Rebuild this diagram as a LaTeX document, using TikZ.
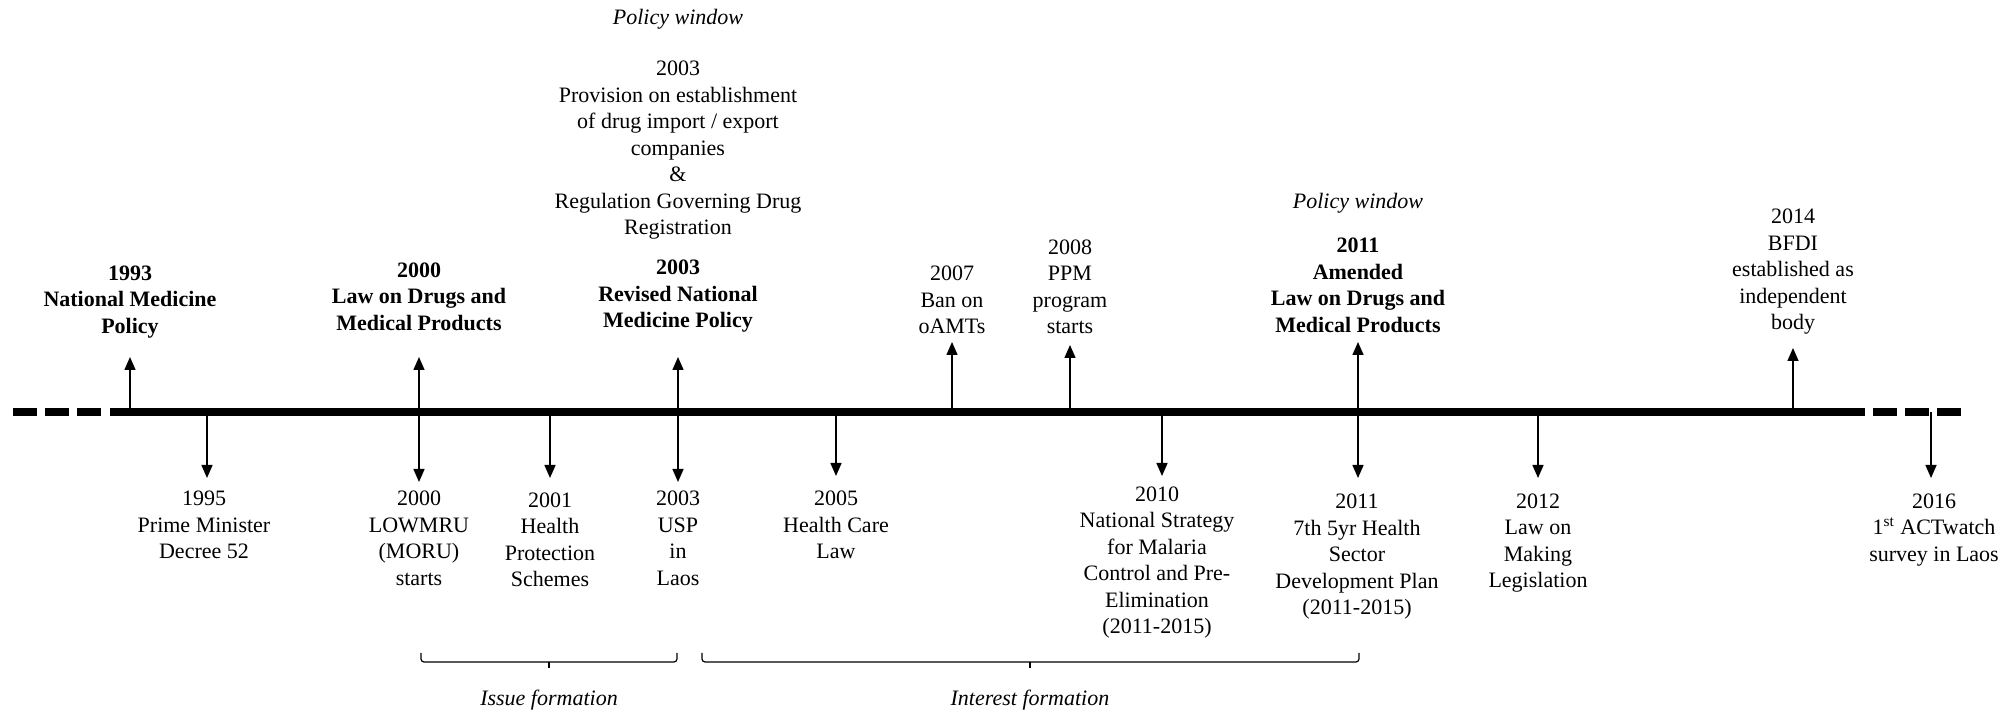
\documentclass[tikz,border=0pt]{standalone}
\usepackage{fontspec}
\setmainfont{Liberation Serif}
\usetikzlibrary{arrows.meta}
\begin{document}
\begin{tikzpicture}[x=0.5pt,y=-0.5pt,
  lbl/.style={align=center,inner sep=0pt,font=\fontsize{11}{13.25}\selectfont},
  blbl/.style={lbl,font=\fontsize{11}{13.25}\selectfont\bfseries},
  ilbl/.style={lbl,font=\fontsize{11}{13.25}\selectfont\itshape},
  tl/.style={line width=4pt},
  tldash/.style={tl,dash pattern=on 12pt off 4pt},
  ev/.style={line width=0.75pt,-{Triangle[length=6.5pt,width=5.5pt]}},
  dev/.style={line width=0.75pt,{Triangle[length=6.5pt,width=5.5pt]}-{Triangle[length=6.5pt,width=5.5pt]}},
  brace/.style={line width=0.6pt,rounded corners=1.5pt}]
\useasboundingbox (0,0) rectangle (2015,715);

% timeline coordinates
\coordinate (L0) at (13,412);
\coordinate (L1) at (102,412);
\coordinate (S0) at (110,412);
\coordinate (S1) at (1865,412);
\coordinate (R0) at (1873,412);
\coordinate (R1) at (1963,412);

% arrow tip coordinates
\coordinate (t1993) at (130,412);   \coordinate (a1993) at (130,357);
\coordinate (a2000u) at (419,357);  \coordinate (a2000d) at (419,482);
\coordinate (a2003u) at (678,357);  \coordinate (a2003d) at (678,482);
\coordinate (t2007) at (952,412);   \coordinate (a2007) at (952,342);
\coordinate (t2008) at (1070,412);  \coordinate (a2008) at (1070,345);
\coordinate (a2011u) at (1358,342); \coordinate (a2011d) at (1358,478);
\coordinate (t2014) at (1793,412);  \coordinate (a2014) at (1793,348);
\coordinate (t1995) at (207,412);   \coordinate (a1995) at (207,478);
\coordinate (t2001) at (550,412);   \coordinate (a2001) at (550,478);
\coordinate (t2005) at (836,412);   \coordinate (a2005) at (836,476);
\coordinate (t2010) at (1162,412);  \coordinate (a2010) at (1162,476);
\coordinate (t2012) at (1538,412);  \coordinate (a2012) at (1538,478);
\coordinate (t2016) at (1931,412);  \coordinate (a2016) at (1931,478);

% arrows
\draw[ev] (t1993) -- (a1993);
\draw[dev] (a2000u) -- (a2000d);
\draw[dev] (a2003u) -- (a2003d);
\draw[ev] (t2007) -- (a2007);
\draw[ev] (t2008) -- (a2008);
\draw[dev] (a2011u) -- (a2011d);
\draw[ev] (t2014) -- (a2014);
\draw[ev] (t1995) -- (a1995);
\draw[ev] (t2001) -- (a2001);
\draw[ev] (t2005) -- (a2005);
\draw[ev] (t2010) -- (a2010);
\draw[ev] (t2012) -- (a2012);
\draw[ev] (t2016) -- (a2016);

% timeline
\draw[tldash] (L0) -- (L1);
\draw[tl] (S0) -- (S1);
\draw[tldash] (R0) -- (R1);

% labels above
\node[ilbl] (pw1) at (678,19) {Policy window};
\node[lbl] (prov) at (678,150.5) {2003\\Provision on establishment\\of drug import / export\\companies\\\&\\Regulation Governing Drug\\Registration};
\node[blbl] (n1993) at (130,302) {1993\\National Medicine\\Policy};
\node[blbl] (n2000a) at (419,296.5) {2000\\Law on Drugs and\\Medical Products};
\node[blbl] (n2003a) at (678,296.5) {2003\\Revised National\\Medicine Policy};
\node[lbl] (n2007) at (952,300) {2007\\Ban on\\oAMTs};
\node[lbl] (n2008) at (1070,287) {2008\\PPM\\program\\starts};
\node[ilbl] (pw2) at (1358,203) {Policy window};
\node[blbl] (n2011a) at (1358,285.5) {2011\\Amended\\Law on Drugs and\\Medical Products};
\node[lbl] (n2014) at (1793,272) {2014\\BFDI\\established as\\independent\\body};

% labels below
\node[lbl] (n1995) at (204,525) {1995\\Prime Minister\\Decree 52};
\node[lbl] (n2000b) at (419,538.5) {2000\\LOWMRU\\(MORU)\\starts};
\node[lbl] (n2001) at (550,540) {2001\\Health\\Protection\\Schemes};
\node[lbl] (n2003b) at (678,538.5) {2003\\USP\\in\\Laos};
\node[lbl] (n2005) at (836,525) {2005\\Health Care\\Law};
\node[lbl] (n2010) at (1157,562.5) {2010\\National Strategy\\for Malaria\\Control and Pre-\\Elimination\\(2011-2015)};
\node[lbl] (n2011b) at (1357,557) {2011\\7th 5yr Health\\Sector\\Development Plan\\(2011-2015)};
\node[lbl] (n2012) at (1538,543) {2012\\Law on\\Making\\Legislation};
\node[lbl] (n2016) at (1934,530) {2016\\1\textsuperscript{st} ACTwatch\\survey in Laos};

% braces
\coordinate (b1l) at (421,653); \coordinate (b1r) at (677,653);
\coordinate (b1m) at (549,662); \coordinate (b1t) at (549,668);
\draw[brace] (b1l) |- (b1m) -| (b1r);
\draw[brace] (b1m) -- (b1t);
\node[ilbl] (issue) at (549,700) {Issue formation};

\coordinate (b2l) at (702,653); \coordinate (b2r) at (1359,653);
\coordinate (b2m) at (1030,662); \coordinate (b2t) at (1030,668);
\draw[brace] (b2l) |- (b2m) -| (b2r);
\draw[brace] (b2m) -- (b2t);
\node[ilbl] (interest) at (1030,700) {Interest formation};
\end{tikzpicture}
\end{document}
